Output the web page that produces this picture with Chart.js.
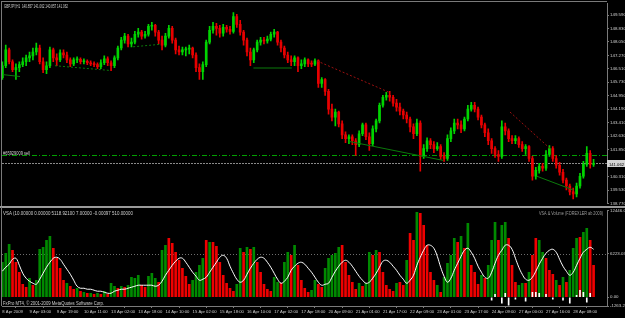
<!DOCTYPE html>
<html><head><meta charset="utf-8">
<script src="https://cdn.jsdelivr.net/npm/chart.js@4.4.1/dist/chart.umd.min.js"></script>
<style>
html,body{margin:0;padding:0;background:#000;width:625px;height:318px;overflow:hidden;}
#wrap{position:relative;width:625px;height:318px;background:#000;}
#c1{position:absolute;left:0;top:0;}
#c2{position:absolute;left:0;top:207px;}
</style></head><body>
<div id="wrap"><canvas id="c1" width="625" height="207"></canvas><canvas id="c2" width="625" height="111"></canvas></div>
<script>
// ---------- DATA (GBPJPY, 2-hour steps) ----------
const timeLabels = ["8 Apr 2009","9 Apr 03:00","9 Apr 19:00","10 Apr 11:00","13 Apr 02:00","13 Apr 18:00","14 Apr 10:00","15 Apr 02:00","15 Apr 18:00","16 Apr 10:00","17 Apr 02:00","17 Apr 18:00","20 Apr 09:00","21 Apr 01:00","21 Apr 17:00","22 Apr 09:00","23 Apr 01:00","23 Apr 17:00","24 Apr 09:00","27 Apr 00:00","27 Apr 16:00","28 Apr 08:00"];
const priceTicks = [149.59,148.83,148.05,147.27,146.51,145.73,144.95,144.19,143.41,142.63,141.85,140.31,139.53,138.77];
const vsaTicks = [12446.06,6223.03,0,-1263.26];

const open = [146.00,146.68,147.59,146.91,146.45,146.57,146.74,146.91,147.13,147.25,
147.47,147.70,146.91,146.45,146.68,147.59,147.13,147.02,147.42,147.30,
147.02,146.79,147.02,147.05,146.91,146.93,146.85,146.79,146.74,146.62,
146.85,147.08,146.85,146.68,147.13,147.70,148.15,148.38,147.93,148.04,
148.49,148.61,148.38,148.49,148.95,149.00,148.61,148.15,147.87,148.38,
148.83,148.15,147.59,147.47,147.59,147.64,147.70,147.30,146.57,146.34,
146.74,148.04,148.72,148.95,148.83,148.55,148.89,148.78,148.66,149.51,
149.06,148.61,148.15,147.47,147.02,147.59,148.04,148.15,148.10,148.21,
148.49,148.61,148.04,147.70,147.30,147.02,146.91,147.13,146.68,146.79,
147.02,146.79,146.77,146.96,145.66,145.89,145.21,144.19,143.73,144.02,
143.34,142.71,142.49,142.60,142.37,142.15,142.77,143.28,142.60,142.20,
143.05,143.51,144.41,144.87,144.98,144.87,144.53,144.30,144.07,143.85,
143.62,143.17,142.77,143.39,141.47,141.92,142.37,142.15,141.92,142.03,
141.47,141.35,142.49,142.94,143.39,143.28,143.05,143.62,144.19,144.41,
144.19,143.73,143.28,142.83,142.37,141.92,141.58,141.47,143.17,142.94,
142.49,142.37,142.49,142.15,141.92,142.03,141.35,140.33,140.67,140.90,
140.79,141.58,141.92,141.35,140.96,140.56,140.11,139.77,139.43,139.31,
139.77,140.33,141.01,141.64,141.01];
const high = [146.91,147.87,147.70,147.02,146.79,146.91,147.13,147.30,147.47,147.70,
147.98,147.87,147.13,146.91,147.76,147.70,147.36,147.59,147.59,147.47,
147.13,147.13,147.19,147.13,147.08,147.02,146.96,146.91,146.85,147.02,
147.25,147.19,146.96,147.25,147.81,148.32,148.55,148.49,148.27,148.66,
148.83,148.72,148.66,149.06,149.17,149.06,148.72,148.38,148.55,149.00,
148.95,148.27,147.81,147.76,147.76,147.87,147.76,147.42,146.79,146.91,
148.15,148.95,149.17,149.12,149.00,149.06,149.00,148.95,149.74,149.63,
149.29,148.72,148.27,147.70,147.70,148.15,148.32,148.32,148.38,148.61,
148.78,148.66,148.15,147.81,147.47,147.25,147.25,147.19,147.02,147.13,
147.08,146.96,147.08,147.02,146.00,145.94,145.32,144.47,144.19,144.07,
143.51,142.88,142.71,142.71,142.49,142.94,143.39,143.39,142.83,143.22,
143.62,144.53,144.98,145.15,145.21,144.98,144.75,144.53,144.19,144.02,
143.73,143.34,143.62,143.51,142.15,142.54,142.49,142.32,142.26,142.15,
141.69,142.71,143.11,143.62,143.62,143.51,143.73,144.41,144.58,144.58,
144.30,143.85,143.39,143.05,142.49,142.03,141.81,143.51,143.39,143.05,
142.66,142.66,142.60,142.32,142.15,142.09,141.47,140.84,141.07,141.07,
141.81,142.09,142.03,141.52,141.13,140.73,140.22,139.88,139.65,139.94,
140.50,141.18,142.03,141.81,141.30];
const low = [145.89,146.57,146.79,146.34,145.89,146.34,146.62,146.68,146.91,147.02,
147.30,146.79,146.28,146.23,146.57,146.91,146.68,146.91,147.13,146.85,
146.62,146.68,146.85,146.79,146.79,146.74,146.68,146.62,146.51,146.51,
146.74,146.68,146.40,146.57,147.02,147.59,147.98,147.76,147.76,147.93,
148.32,148.21,148.27,148.38,148.72,148.38,147.93,147.59,147.76,148.27,
147.98,147.36,147.30,147.30,147.25,147.36,147.13,146.34,145.89,145.89,
146.62,147.93,148.55,148.44,148.32,148.38,148.61,148.49,148.55,148.89,
148.44,147.87,147.25,146.68,146.85,147.47,147.87,147.93,147.98,148.10,
148.32,147.87,147.47,147.13,146.85,146.68,146.68,146.34,146.51,146.62,
146.62,146.62,146.68,145.43,145.43,144.98,143.90,143.51,143.22,143.17,
142.49,142.26,142.20,142.15,141.52,142.03,142.66,142.43,141.81,142.09,
142.88,143.39,144.30,144.70,144.64,144.36,144.07,143.85,143.62,143.39,
142.88,142.49,142.66,140.62,141.35,141.75,141.92,141.69,141.81,141.30,
141.18,141.24,142.32,142.77,143.05,142.83,142.94,143.51,144.07,144.02,
143.56,143.11,142.60,142.15,141.64,141.41,141.18,141.35,142.71,142.32,
142.20,142.20,141.98,141.75,141.58,141.18,140.11,140.16,140.50,140.62,
140.67,141.47,141.18,140.79,140.39,139.94,139.54,139.26,139.03,139.14,
139.65,140.22,140.90,140.79,140.90];
const close = [146.68,147.59,146.91,146.45,146.57,146.74,146.91,147.13,147.25,147.47,
147.70,146.91,146.45,146.68,147.59,147.13,147.02,147.42,147.30,147.02,
146.79,147.02,147.05,146.91,146.93,146.85,146.79,146.74,146.62,146.85,
147.08,146.85,146.68,147.13,147.70,148.15,148.38,147.93,148.04,148.49,
148.61,148.38,148.49,148.95,149.00,148.61,148.15,147.87,148.38,148.83,
148.15,147.59,147.47,147.59,147.64,147.70,147.30,146.57,146.34,146.74,
148.04,148.72,148.95,148.83,148.55,148.89,148.78,148.66,149.51,149.06,
148.61,148.15,147.47,147.02,147.59,148.04,148.15,148.10,148.21,148.49,
148.61,148.04,147.70,147.30,147.02,146.91,147.13,146.68,146.79,147.02,
146.79,146.77,146.96,145.66,145.89,145.21,144.19,143.73,144.02,143.34,
142.71,142.49,142.60,142.37,142.15,142.77,143.28,142.60,142.20,143.05,
143.51,144.41,144.87,144.98,144.87,144.53,144.30,144.07,143.85,143.62,
143.17,142.77,143.39,141.47,141.92,142.37,142.15,141.92,142.03,141.47,
141.35,142.49,142.94,143.39,143.28,143.05,143.62,144.19,144.41,144.19,
143.73,143.28,142.83,142.37,141.92,141.58,141.47,143.17,142.94,142.49,
142.37,142.49,142.15,141.92,142.03,141.35,140.33,140.67,140.90,140.79,
141.58,141.92,141.35,140.96,140.56,140.11,139.77,139.43,139.31,139.77,
140.33,141.01,141.64,141.01,141.062];

const volume = [5026,6318,7611,6749,5026,3590,1867,1436,2728,1723,
2441,6893,7180,8185,8760,7036,5600,4164,2441,2010,
1580,1149,1292,862,718,574,574,431,574,431,
862,431,2010,1580,1292,1580,1436,1723,2872,2728,
3159,1723,1436,3016,3446,2728,2154,6749,7467,8472,
7754,6462,5313,4164,3016,1867,2441,3590,4595,5600,
8185,7898,7898,7324,5026,3159,2010,1292,862,1867,
7036,6462,7180,6893,7180,5026,3590,1867,1149,862,
2872,2154,2010,5026,6462,6031,7467,4595,2441,1292,
718,1005,2441,1867,1436,4164,5600,6031,6318,7180,
7467,5026,3159,2154,1149,2010,1580,2010,6462,6031,
6749,6462,3590,1723,1149,862,2010,2154,1723,5313,
9190,8185,12206,12062,10339,7467,3590,2441,1723,718,
2872,4882,6031,8472,7898,8760,7036,10626,4595,3590,
1867,3159,2728,4595,8185,10770,8185,10339,10770,8472,
4595,2154,1723,2010,2010,3590,6031,8472,8185,6462,
5600,3877,3303,2441,1723,2872,2154,3877,7036,8472,
8616,9334,9908,8185,4595];
// u = green (up) volume bar, d = red (down) volume bar
const volumeSide = ("uuudddddud"+"uuuuuddddu"+"ddudududud"+"uduududuuu"+"udduuuduud"+
"dddddduuuu"+"dudddddddu"+"udududdddd"+"uuduududdd"+"duudduuuuu"+
"ddddduduud"+"uddddduddu"+"ddudddddud"+"uuuudududd"+"duduuuduud"+
"dduududduu"+"dddududuuu"+"duudd").split("");
const vsaAverage = [3734,4308,4739,5457,5600,4595,3446,2728,2298,2010,
1867,2585,3446,4308,5026,5600,5744,5457,4739,4021,
3303,2441,1580,1292,1292,1149,1149,1005,862,862,
718,574,574,862,1005,1149,1149,1292,1436,1580,
1723,1723,1723,1723,1723,1580,1723,2298,3159,3877,
4595,5170,5600,5600,5026,4308,3590,3016,2441,2585,
2872,3590,4308,5026,5744,6031,5600,4452,3446,2585,
2154,2441,3303,4164,4882,5457,5744,5600,5026,4308,
3446,2585,2010,2298,2872,3877,4452,4882,5026,4739,
4164,3590,2872,2154,1723,1867,2010,2872,3734,4452,
5026,5313,5026,4452,3734,3016,2441,2010,2154,2728,
3446,4308,5170,5313,5026,4452,3877,3159,2585,2010,
2441,3159,4595,5744,6749,7467,7467,7036,5888,4308,
3016,2154,2728,3877,4882,5888,6749,7036,6462,5600,
4452,3590,2872,2728,3590,4882,6031,6749,7467,7467,
6893,5600,4308,3303,2585,2441,2872,3734,4739,5600,
6318,6749,6893,6462,5457,4452,3734,3159,3590,4595,
5600,6462,6893,7180,6893];
const deltaStart = 143;
const vsaDelta = [null,-431,431,null,-862,574,-1149,null,-287,null,
null,-574,null,718,718,574,null,431,null,-287,
null,null,-431,null,-862,null,287,1005,718,-718,574,null];

const sellLevel = 141.55;
const vsaLevel = 6223.03;
// trend lines drawn on the chart: [bar index, price]
const trendStart = [[0.2,146.17],[15.5,146.68],[38.5,147.77],[73.9,146.55],[92.6,146.96],[149.4,144.02],[102.3,142.32],[157.3,140.33]];
const trendEnd   = [[5.2,146.06],[31.7,146.41],[46.4,147.91],[85.2,146.55],[114.1,145.13],[161.2,141.92],[129.7,141.24],[168,139.54]];

// ---------- CHART ----------
const SLOT_MIN = -0.1, SLOT_MAX = 177.95;
const FONT = '"Liberation Sans", Arial, sans-serif';
const FRAME = '#7a7a7a';
const TXT = '#cfcfcf';
const BULL = '#00d400', BEAR = '#e80000';
const idx = close.map((_, i) => i);
const candleColor = ctx => close[ctx.dataIndex] >= open[ctx.dataIndex] ? BULL : BEAR;
const trendStyle = [
  {c:'#0b7a0b', d:[]},{c:'#0b7a0b', d:[2,2]},{c:'#0b7a0b', d:[2,2]},{c:'#0b7a0b', d:[]},
  {c:'#9a1010', d:[2,2]},{c:'#9a1010', d:[2,2]},{c:'#0b7a0b', d:[]},{c:'#0b7a0b', d:[]}
];

function txt(ctx, s, x, y, size, color, maxW, align) {
  ctx.save();
  ctx.font = size + 'px ' + FONT;
  ctx.fillStyle = color;
  ctx.textAlign = align || 'left';
  ctx.textBaseline = 'alphabetic';
  ctx.fillText(s, x, y, maxW);
  ctx.restore();
}
function hline(ctx, a, py, color, dash) {
  ctx.save();
  ctx.strokeStyle = color; ctx.lineWidth = 1; ctx.setLineDash(dash);
  ctx.beginPath(); ctx.moveTo(a.left, py); ctx.lineTo(a.right, py); ctx.stroke();
  ctx.restore();
}

const mainDeco = {
  id: 'mainDeco',
  beforeDatasetsDraw(chart) {
    const {ctx, chartArea: a, scales: {y}} = chart;
    hline(ctx, a, Math.round(y.getPixelForValue(sellLevel)) + 0.5, '#00a000', [5,2,1,2]);
    hline(ctx, a, Math.round(y.getPixelForValue(close[close.length - 1])) + 0.5, '#8a8a8a', [2,1]);
  },
  afterDraw(chart) {
    const {ctx, chartArea: a, scales: {y}} = chart;
    ctx.save();
    ctx.fillStyle = FRAME;
    ctx.fillRect(1, 1, a.right - 1, 1);   // top border
    ctx.fillRect(1, 1, 1, 206);           // left border
    ctx.fillStyle = '#9a9a9a';
    ctx.fillRect(0, 206, 625, 1);         // panel separator
    ctx.restore();
    txt(ctx, 'GBPJPY,H1  140.857 141.062 140.857 141.062', 4, 7.5, 5, TXT, 64);
    txt(ctx, '#65929009 sell', 3, 154.5, 5, TXT, 27);
    const last = close[close.length - 1];
    const py = y.getPixelForValue(last);
    ctx.save();
    ctx.fillStyle = '#d4d4d4';
    ctx.fillRect(607, Math.round(py) - 3, 18, 7);
    ctx.restore();
    txt(ctx, last.toFixed(3), 609, Math.round(py) + 2.5, 4.4, '#000', 15);
  }
};

new Chart(document.getElementById('c1'), {
  type: 'bar',
  data: {
    datasets: [
      ...trendStart.map((s, k) => ({
        type: 'line', data: [{x: s[0], y: s[1]}, {x: trendEnd[k][0], y: trendEnd[k][1]}],
        borderColor: trendStyle[k].c, borderDash: trendStyle[k].d, borderWidth: 1,
        pointRadius: 0, order: 0
      })),
      { label: 'wick', data: idx.map(i => ({x: i, y: [low[i], high[i]]})),
        backgroundColor: candleColor, barThickness: 1, grouped: false, order: 2 },
      { label: 'body', data: idx.map(i => ({x: i, y: [open[i], close[i]]})),
        backgroundColor: candleColor, barThickness: 2, minBarLength: 1, grouped: false, order: 1 }
    ]
  },
  options: {
    responsive: false, animation: false, devicePixelRatio: 1,
    layout: {padding: {left: 2, top: 3, right: 0, bottom: 1}},
    plugins: {legend: {display: false}, tooltip: {enabled: false}},
    scales: {
      x: {type: 'linear', min: SLOT_MIN, max: SLOT_MAX, offset: false, display: false},
      y: {
        position: 'right', min: 138.77, max: 150.25,
        afterFit: s => { s.width = 18; },
        afterBuildTicks: s => { s.ticks = priceTicks.map(v => ({value: v})); },
        ticks: {autoSkip: false, color: TXT, padding: 1, font: {size: 4.4, family: FONT},
                callback: v => Number(v).toFixed(3)},
        grid: {drawOnChartArea: false, drawTicks: true, tickLength: 2, color: FRAME},
        border: {display: true, color: FRAME}
      }
    }
  },
  plugins: [mainDeco]
});

const subDeco = {
  id: 'subDeco',
  beforeDatasetsDraw(chart) {
    const {ctx, chartArea: a, scales: {y}} = chart;
    hline(ctx, a, Math.round(y.getPixelForValue(vsaLevel)) + 0.5, '#6e6e6e', [1,2]);
  },
  afterDraw(chart) {
    const {ctx, chartArea: a} = chart;
    ctx.save();
    ctx.fillStyle = '#9a9a9a';
    ctx.fillRect(0, 0, 625, 1);
    ctx.fillStyle = FRAME;
    ctx.fillRect(1, 0, 1, a.bottom);
    ctx.restore();
    txt(ctx, 'VSA (10.00000 0.00000 5118.92100 7.00000 -0.00097 510.00000', 3, 8, 5, TXT, 130);
    txt(ctx, 'VSA & Volume (F.DREXLER ab 2009)', 603, 8, 5, '#9a9a9a', 64, 'right');
    txt(ctx, 'FxPro MT4, \u00a9 2001-2009 MetaQuotes Software Corp.', 3, 97.5, 5, TXT, 101);
  }
};

const greenVol = idx.filter(i => volumeSide[i] === 'u').map(i => ({x: i, y: volume[i]}));
const redVol = idx.filter(i => volumeSide[i] === 'd').map(i => ({x: i, y: volume[i]}));
const deltaData = vsaDelta.map((v, k) => ({x: deltaStart + k, y: v}));

new Chart(document.getElementById('c2'), {
  type: 'bar',
  data: {
    datasets: [
      { type: 'line', data: idx.map(i => ({x: i, y: vsaAverage[i]})), borderColor: '#ffffff',
        borderWidth: 1, pointRadius: 0, tension: 0.4, order: 0 },
      { data: greenVol, backgroundColor: '#008a00', barThickness: 2, grouped: false, order: 2 },
      { data: redVol, backgroundColor: '#f00000', barThickness: 2, grouped: false, order: 2 },
      { data: deltaData, backgroundColor: '#ffffff', barThickness: 1, grouped: false, order: 1 }
    ]
  },
  options: {
    responsive: false, animation: false, devicePixelRatio: 1,
    layout: {padding: {left: 2, top: 2, right: 0, bottom: 0}},
    plugins: {legend: {display: false}, tooltip: {enabled: false}},
    scales: {
      x: {
        type: 'linear', min: SLOT_MIN, max: SLOT_MAX, offset: false,
        afterFit: s => { s.height = 12; },
        afterBuildTicks: s => { s.ticks = timeLabels.map((t, k) => ({value: k * 8})); },
        ticks: {autoSkip: false, maxRotation: 0, minRotation: 0, align: 'start', padding: 1,
                color: TXT, font: {size: 4.2, family: FONT},
                callback: v => timeLabels[Math.round(v / 8)]},
        grid: {drawOnChartArea: false, drawTicks: true, tickLength: 2, color: FRAME},
        border: {display: true, color: FRAME}
      },
      y: {
        position: 'right', min: -1263.26, max: 12446.06,
        afterFit: s => { s.width = 18; },
        afterBuildTicks: s => { s.ticks = vsaTicks.map(v => ({value: v})); },
        ticks: {autoSkip: false, color: TXT, padding: 1, font: {size: 4.4, family: FONT},
                callback: v => Number(v).toFixed(2)},
        grid: {drawOnChartArea: false, drawTicks: true, tickLength: 2, color: FRAME},
        border: {display: true, color: FRAME}
      }
    }
  },
  plugins: [subDeco]
});
</script>
</body></html>
